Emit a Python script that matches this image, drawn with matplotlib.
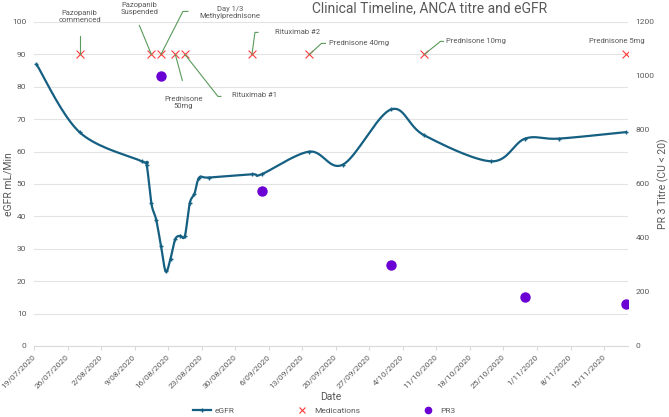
import numpy as np
import pandas as pd
import matplotlib
matplotlib.use('Agg')
import matplotlib.pyplot as plt
import matplotlib.dates as mdates
from matplotlib.lines import Line2D
from matplotlib.transforms import IdentityTransform

plt.rcParams['font.family'] = ['Roboto', 'DejaVu Sans']

# eGFR readings (mL/Min)
egfr_dates = ['2020-07-19', '2020-07-28', '2020-08-10', '2020-08-11', '2020-08-12', '2020-08-13',
              '2020-08-14', '2020-08-15', '2020-08-16', '2020-08-17', '2020-08-18', '2020-08-19',
              '2020-08-20', '2020-08-21', '2020-08-22', '2020-08-24', '2020-09-02', '2020-09-04',
              '2020-09-14', '2020-09-21', '2020-10-01', '2020-10-08', '2020-10-22', '2020-10-29',
              '2020-11-05', '2020-11-19']
egfr_values = [87, 66, 57, 56, 44, 39, 31, 23, 27, 33, 34, 34, 44, 47, 52, 52, 53, 53,
               60, 56, 73, 65, 57, 64, 64, 66]

# PR3 titre (CU)
pr3_dates = ['2020-08-14', '2020-09-04', '2020-10-01', '2020-10-29', '2020-11-19']
pr3_values = [1000, 575, 300, 183, 155]

# medication events, drawn at 90 on the eGFR axis
med_dates = ['2020-07-28', '2020-08-12', '2020-08-14', '2020-08-17', '2020-08-19',
             '2020-09-02', '2020-09-14', '2020-10-08', '2020-11-19']
med_labels = ['Pazopanib\ncommenced', 'Pazopanib\nSuspended', 'Day 1/3\nMethylprednisone',
              'Prednisone\n50mg', 'Rituximab #1', 'Rituximab #2', 'Prednisone 40mg',
              'Prednisone 10mg', 'Prednisone 5mg']
med_level = 90

# label placement, pixel offsets from the marker: text anchor, alignment, leader points
label_layout = [
    ((0, 38), 'center', [(0, 0), (0, 18)]),
    ((-12, 46), 'center', [(0, 0), (-12, 29)]),
    ((69, 42), 'center', [(0, 0), (22, 43), (27, 43)]),
    ((8, -48), 'center', [(0, 0), (7, -26)]),
    ((47, -41), 'left', [(0, 0), (33, -42), (36, -42)]),
    ((23, 22), 'left', [(0, 0), (3, 22), (6, 22)]),
    ((20, 11), 'left', [(0, 0), (12, 11), (16, 11)]),
    ((22, 13), 'left', [(0, 0), (16, 13), (19, 13)]),
    ((-9, 13), 'center', []),
]

grey = '#595959'
blue = '#156082'
red = '#FF3B3B'
purple = '#6A00D4'
green = '#5A9A5A'

half_day = pd.Timedelta(hours=12)
egfr_x = mdates.date2num(pd.to_datetime(egfr_dates) + half_day)
pr3_x = mdates.date2num(pd.to_datetime(pr3_dates) + half_day)
med_x = mdates.date2num(pd.to_datetime(med_dates) + half_day)

fig = plt.figure(figsize=(6.69, 4.17), dpi=100)
ax = fig.add_axes([34 / 669, 1 - 346 / 417, 594 / 669, 324 / 417])
ax2 = ax.twinx()

ax.set_xlim(mdates.date2num(pd.Timestamp('2020-07-19')), mdates.date2num(pd.Timestamp('2020-11-20')))
ax.set_ylim(0, 100)
ax2.set_ylim(0, 1200)


def smooth(ax, xs, ys, steps=20):
    # Catmull-Rom curve through the points, computed in screen space like Excel's smoothed line
    pts = ax.transData.transform(np.column_stack([xs, ys]))
    p = np.vstack([pts[0], pts, pts[-1]])
    out = []
    t = np.linspace(0, 1, steps)[:, None]
    for i in range(1, len(p) - 2):
        p0, p1, p2, p3 = p[i - 1], p[i], p[i + 1], p[i + 2]
        c1 = p1 + (p2 - p0) / 6
        c2 = p2 - (p3 - p1) / 6
        seg = ((1 - t) ** 3) * p1 + 3 * ((1 - t) ** 2) * t * c1 + 3 * (1 - t) * t ** 2 * c2 + t ** 3 * p2
        out.append(seg)
    curve = np.vstack(out)
    return ax.transData.inverted().transform(curve)


curve = smooth(ax, egfr_x, egfr_values)
ax.plot(curve[:, 0], curve[:, 1], color=blue, lw=1.6, solid_capstyle='round', zorder=3)
ax.plot(egfr_x, egfr_values, ls='none', marker='+', ms=3.5, mew=1.0, color=blue, zorder=4)

ax.scatter(med_x, [med_level] * len(med_x), marker='x', s=32, color=red, lw=0.8, zorder=5)
ax2.scatter(pr3_x, pr3_values, s=42, color=purple, zorder=5)

# gridlines & axes styling
ax.set_yticks(np.arange(0, 101, 10))
ax.grid(axis='y', color='#E3E3E3', lw=0.8)
ax.set_axisbelow(True)
for a in (ax, ax2):
    for s in a.spines.values():
        s.set_visible(False)
ax.spines['bottom'].set_visible(True)
ax.spines['bottom'].set_color('#D9D9D9')

ticks = pd.date_range('2020-07-19', '2020-11-15', freq='7D')
ax.set_xticks(mdates.date2num(ticks))
ax.set_xticklabels([f'{d.day}/{d.month:02d}/{d.year}' for d in ticks],
                   rotation=45, ha='right', va='center', rotation_mode='anchor')
ax.tick_params(axis='x', colors='#D9D9D9', length=3, width=0.8, labelcolor=grey, labelsize=6, pad=4)
ax.tick_params(axis='y', length=0, labelcolor=grey, labelsize=6, pad=5.5)
ax2.set_yticks(np.arange(0, 1201, 200))
ax2.tick_params(axis='y', length=0, labelcolor=grey, labelsize=6, pad=5.5)

ax.set_ylabel('eGFR mL/Min', color=grey, fontsize=7.5)
ax.yaxis.set_label_coords(-0.034, 0.5)
ax2.set_ylabel('PR 3 Titre (CU < 20)', color=grey, fontsize=7.5)
ax2.yaxis.set_label_coords(1.050, 0.5)
ax.set_xlabel('Date', color=grey, fontsize=7.5, labelpad=2)

fig.text(430 / 669, 1 - 8 / 417, 'Clinical Timeline, ANCA titre and eGFR', color=grey,
         fontsize=10, ha='center', va='center')

# medication labels with leader lines
fig.canvas.draw()
for x, label, (txt_off, ha, leader) in zip(med_x, med_labels, label_layout):
    ax.annotate(label, xy=(x, med_level), xytext=txt_off, textcoords='offset pixels',
                ha=ha, va='center', fontsize=5.5, color=grey, linespacing=1.3,
                multialignment='center', annotation_clip=False)
    if leader:
        base = ax.transData.transform((x, med_level))
        pts = base + np.array(leader, dtype=float)
        fig.add_artist(Line2D(pts[:, 0], pts[:, 1], color=green, lw=0.8, transform=IdentityTransform()))

handles = [
    Line2D([], [], color=blue, lw=1.6, marker='+', ms=3.5, mew=1.0),
    Line2D([], [], ls='none', marker='x', ms=5, mew=0.8, color=red),
    Line2D([], [], ls='none', marker='o', ms=4.5, color=purple),
]
leg = fig.legend(handles, ['eGFR', 'Medications', 'PR3'], loc='center', ncol=3,
                 bbox_to_anchor=(324 / 669, 1 - 411 / 417), frameon=False, fontsize=6,
                 columnspacing=7, handlelength=2.2, handletextpad=0.4)
for t in leg.get_texts():
    t.set_color(grey)

fig.savefig('out.png', dpi=100)
